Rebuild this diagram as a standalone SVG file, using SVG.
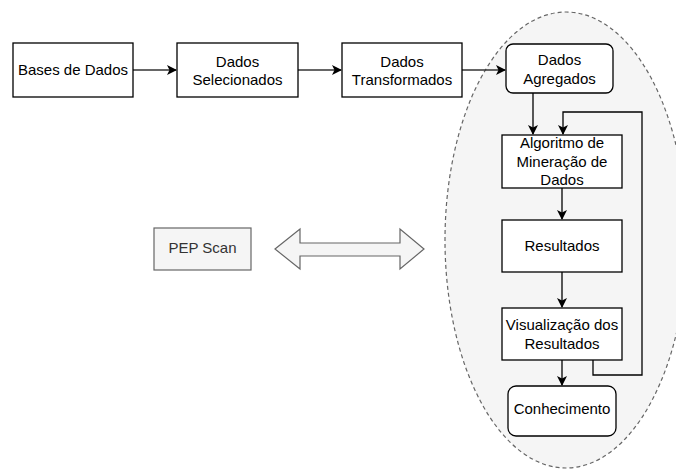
<svg xmlns="http://www.w3.org/2000/svg" width="676" height="470" viewBox="0 0 676 470">
<style>
.box{fill:#fff;stroke:#000;stroke-width:1.3}
.t{font-family:"Liberation Sans",Arial,sans-serif;font-size:15px;fill:#000;text-anchor:middle}
.c{fill:none;stroke:#000;stroke-width:1.3}
.g{stroke:#333}
</style>
<defs>
<marker id="ah" viewBox="0 0 10 10" refX="9" refY="5" markerWidth="10" markerHeight="10" markerUnits="userSpaceOnUse" orient="auto">
<path d="M0,0 L10,5 L0,10 L2.5,5 Z" fill="#000"/>
</marker>
</defs>
<rect width="676" height="470" fill="#fff"/>
<g id="cluster">
<ellipse cx="566" cy="240" rx="121" ry="228" fill="#f5f5f5" stroke="#666" stroke-width="1.2" stroke-dasharray="4 3"/>
</g>
<g id="connectors">
<path class="c g" d="M133,70 L176,70" marker-end="url(#ah)"/>
<path class="c g" d="M298,70 L341,70" marker-end="url(#ah)"/>
<path class="c g" d="M462,70 L505,70" marker-end="url(#ah)"/>
<path class="c" d="M533,93 L533,134" marker-end="url(#ah)"/>
<path class="c" d="M593,360 L593,375 L642,375 L642,112 L563,112 L563,134" marker-end="url(#ah)"/>
<path class="c" d="M562,188 L562,219" marker-end="url(#ah)"/>
<path class="c" d="M562,272 L562,307" marker-end="url(#ah)"/>
<path class="c" d="M562,360 L562,385" marker-end="url(#ah)"/>
</g>
<g id="bases">
<rect class="box" x="13" y="43" width="120" height="54"/>
<text class="t" x="73" y="75">Bases de Dados</text>
</g>
<g id="selecionados">
<rect class="box" x="177" y="43" width="121" height="54"/>
<text class="t" x="237.5" y="67">Dados</text>
<text class="t" x="237.5" y="85">Selecionados</text>
</g>
<g id="transformados">
<rect class="box" x="342" y="43" width="120" height="54"/>
<text class="t" x="402" y="67">Dados</text>
<text class="t" x="402" y="85">Transformados</text>
</g>
<g id="agregados">
<rect class="box" x="506" y="44" width="107" height="49" rx="7"/>
<text class="t" x="559.5" y="65">Dados</text>
<text class="t" x="559.5" y="84">Agregados</text>
</g>
<g id="algoritmo">
<rect class="box" x="502" y="135" width="120" height="53"/>
<text class="t" x="562" y="148">Algoritmo de</text>
<text class="t" x="562" y="167">Mineração de</text>
<text class="t" x="562" y="185">Dados</text>
</g>
<g id="resultados">
<rect class="box" x="502" y="220" width="120" height="52"/>
<text class="t" x="562" y="251">Resultados</text>
</g>
<g id="visualizacao">
<rect class="box" x="502" y="308" width="120" height="52"/>
<text class="t" x="562" y="330">Visualização dos</text>
<text class="t" x="562" y="349">Resultados</text>
</g>
<g id="conhecimento">
<rect class="box" x="508" y="386" width="108" height="50" rx="8"/>
<text class="t" x="562" y="414">Conhecimento</text>
</g>
<g id="pepscan">
<rect x="154" y="228" width="97" height="42" fill="#f5f5f5" stroke="#666" stroke-width="1.2"/>
<text class="t" x="202.5" y="253" style="fill:#333">PEP Scan</text>
</g>
<g id="doublearrow">
<polygon points="275,249 300,229 300,243 400,243 400,229 424,249 400,269 400,256 300,256 300,269" fill="#f5f5f5" stroke="#666" stroke-width="1.2"/>
</g>
</svg>
